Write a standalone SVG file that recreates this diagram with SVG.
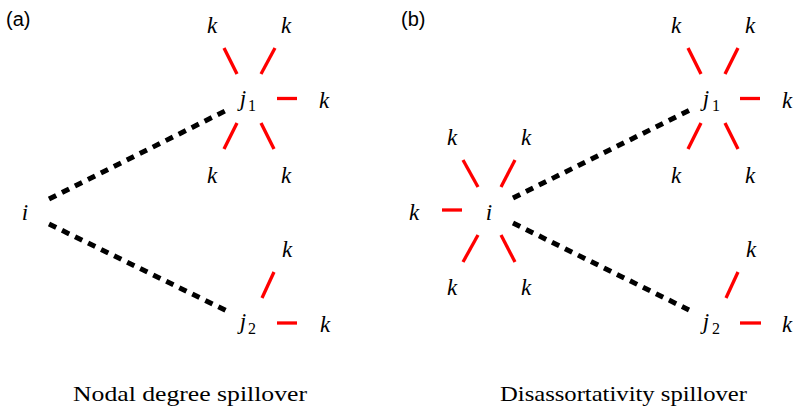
<svg xmlns="http://www.w3.org/2000/svg" width="793" height="409" viewBox="0 0 793 409">
<style>
.m{font-family:"Liberation Serif","Times New Roman",serif;font-style:italic;font-size:23px;text-anchor:middle;fill:#000}
.s{font-family:"Liberation Serif","Times New Roman",serif;font-size:16px;fill:#000}
.r{stroke:#ff0000;stroke-width:3.3;fill:none}
.d{stroke:#000;stroke-width:5;stroke-dasharray:8 6.5;fill:none}
.lab{font-family:"Liberation Sans",Arial,sans-serif;font-size:20px;fill:#000}
.cap{font-family:"Liberation Serif","Times New Roman",serif;font-size:22px;fill:#000;text-anchor:middle}
</style>
<rect width="793" height="409" fill="#fff"/>
<text class="lab" x="6" y="26">(a)</text>
<text class="lab" x="401" y="26">(b)</text>
<g id="connectors">
<line class="d" x1="49" y1="199" x2="227" y2="110"/>
<line class="d" x1="49" y1="224" x2="227" y2="311"/>
<line class="d" x1="513" y1="198" x2="690" y2="110"/>
<line class="d" x1="513" y1="223" x2="689" y2="310"/>
</g>
<g id="a-i"><text class="m" x="25" y="220">i</text></g>
<g id="a-j1">
<text class="m" x="243" y="106">j</text><text class="s" x="248" y="111">1</text>
<line class="r" x1="224" y1="48" x2="237" y2="74"/>
<line class="r" x1="275" y1="48" x2="261" y2="74"/>
<line class="r" x1="277" y1="98.5" x2="297" y2="98.5"/>
<line class="r" x1="237" y1="123" x2="224" y2="149"/>
<line class="r" x1="261" y1="123" x2="274" y2="149"/>
<text class="m" x="212" y="33">k</text><text class="m" x="286" y="33">k</text>
<text class="m" x="324" y="108">k</text>
<text class="m" x="212" y="183">k</text><text class="m" x="286" y="183">k</text>
</g>
<g id="a-j2">
<text class="m" x="243" y="329">j</text><text class="s" x="248" y="334">2</text>
<line class="r" x1="274" y1="272" x2="262" y2="298"/>
<line class="r" x1="277" y1="323" x2="297" y2="323"/>
<text class="m" x="287" y="257">k</text>
<text class="m" x="325" y="332">k</text>
</g>
<g id="b-i">
<text class="m" x="489" y="220">i</text>
<line class="r" x1="463" y1="160" x2="478" y2="187"/>
<line class="r" x1="515" y1="160" x2="501" y2="187"/>
<line class="r" x1="442" y1="210" x2="462" y2="210"/>
<line class="r" x1="478" y1="235" x2="463" y2="262"/>
<line class="r" x1="501" y1="235" x2="515" y2="262"/>
<text class="m" x="452" y="145">k</text><text class="m" x="526" y="145">k</text>
<text class="m" x="414" y="220">k</text>
<text class="m" x="452" y="295">k</text><text class="m" x="526" y="295">k</text>
</g>
<g id="b-j1">
<text class="m" x="706" y="106">j</text><text class="s" x="712" y="111">1</text>
<line class="r" x1="688" y1="48" x2="701" y2="74"/>
<line class="r" x1="738" y1="48" x2="725" y2="74"/>
<line class="r" x1="740" y1="98.5" x2="760" y2="98.5"/>
<line class="r" x1="701" y1="123" x2="688" y2="149"/>
<line class="r" x1="725" y1="123" x2="738" y2="149"/>
<text class="m" x="676" y="33">k</text><text class="m" x="750" y="33">k</text>
<text class="m" x="787" y="108">k</text>
<text class="m" x="676" y="183">k</text><text class="m" x="750" y="183">k</text>
</g>
<g id="b-j2">
<text class="m" x="706" y="329">j</text><text class="s" x="712" y="334">2</text>
<line class="r" x1="738" y1="272" x2="726" y2="298"/>
<line class="r" x1="740" y1="323" x2="761" y2="323"/>
<text class="m" x="751" y="257">k</text>
<text class="m" x="787" y="332">k</text>
</g>
<text class="cap" x="190" y="401" textLength="234" lengthAdjust="spacingAndGlyphs">Nodal degree spillover</text>
<text class="cap" x="623.5" y="401" textLength="247" lengthAdjust="spacingAndGlyphs">Disassortativity spillover</text>
</svg>
